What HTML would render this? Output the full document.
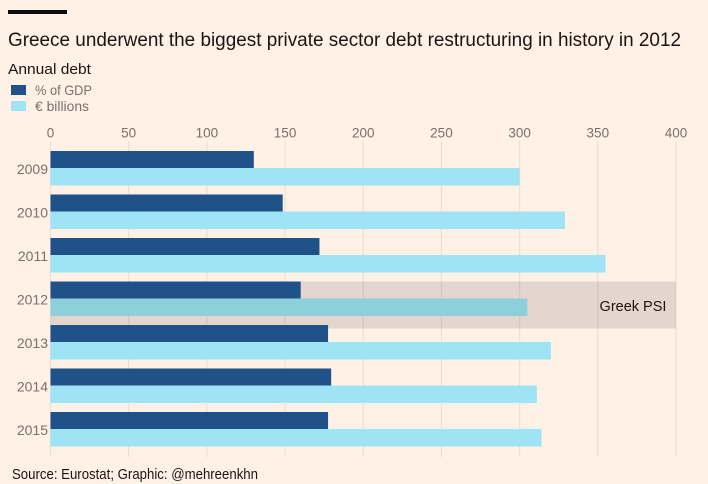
<!DOCTYPE html>
<html lang="en">
<head>
<meta charset="utf-8">
<title>Greece debt restructuring chart</title>
<style>
html,body{margin:0;padding:0;background:#fff1e5;}
#chart{display:block;width:708px;height:484px;font-family:"Liberation Sans",sans-serif;}
</style>
</head>
<body>
<svg id="chart" xmlns="http://www.w3.org/2000/svg" width="708" height="484" viewBox="0 0 708 484">
  <rect x="0" y="0" width="708" height="484" fill="#fff1e5"/>
  <rect x="8" y="10" width="59" height="4" fill="#0d0d0d"/>
  <text x="8" y="46" font-size="19.5" fill="#1a1512" textLength="673" lengthAdjust="spacingAndGlyphs">Greece underwent the biggest private sector debt restructuring in history in 2012</text>
  <text x="8" y="74" font-size="15" fill="#1a1512" textLength="83" lengthAdjust="spacingAndGlyphs">Annual debt</text>
  <rect x="11" y="85" width="15" height="10" fill="#1f5288"/>
  <text x="35" y="95" font-size="14" fill="#7a706a" textLength="57" lengthAdjust="spacingAndGlyphs">% of GDP</text>
  <rect x="11" y="101" width="15" height="10" fill="#9ee4f5"/>
  <text x="35" y="111" font-size="14" fill="#7a706a" textLength="54" lengthAdjust="spacingAndGlyphs">€ billions</text>
  <g id="plot"></g>
  <text x="12" y="479" font-size="14.5" fill="#1a1512" textLength="246" lengthAdjust="spacingAndGlyphs">Source: Eurostat; Graphic: @mehreenkhn</text>
</svg>
<script>
const years = ["2009", "2010", "2011", "2012", "2013", "2014", "2015"];
const gdpShare = [130, 148.5, 172, 160, 177.5, 179.5, 177.5];
const euroBillions = [300, 329, 355, 305, 320, 311, 314];
const xTicks = [0, 50, 100, 150, 200, 250, 300, 350, 400];
const highlightYear = "2012";
const highlightLabel = "Greek PSI";

const NS = "http://www.w3.org/2000/svg";
const plotGroup = document.getElementById("plot");
const xScale = v => 50.5 + v * (676 - 50.5) / 400;
const rowTop = i => 151 + i * 43.5;
const barH = 17;

function add(tag, attrs, text) {
  const el = document.createElementNS(NS, tag);
  for (const k in attrs) el.setAttribute(k, attrs[k]);
  if (text !== undefined) el.textContent = text;
  plotGroup.appendChild(el);
  return el;
}

/* gridlines and tick labels */
xTicks.forEach(t => {
  const line = add("line", {x1: xScale(t), x2: xScale(t), y1: 141, y2: 457, stroke: "#ecdfd3", "stroke-width": 1.2});
  
  
  const label = add("text", {x: xScale(t), y: 137.5, "text-anchor": "middle", "font-size": 13.5, fill: "#7a706a"}, String(t));
  
  
});

/* bars */
const highlightIndex = years.indexOf(highlightYear);
years.forEach((year, i) => {
  const y = rowTop(i);
  if (i === highlightIndex) {
    const bandRect = add("rect", {x: xScale(0), y: y, width: xScale(400) - xScale(0), height: 47, fill: "#5e5252", "fill-opacity": 0.17});
    
    
  }
  const dark = add("rect", {x: xScale(0), y: y, width: xScale(gdpShare[i]) - xScale(0), height: barH, fill: "#1f5288"});
  
  
  const light = add("rect", {x: xScale(0), y: y + barH, width: xScale(euroBillions[i]) - xScale(0), height: barH + 0.5, fill: i === highlightIndex ? "#8ecfdc" : "#9ee4f5"});
  
  
  const label = add("text", {x: 48, y: y + 23, "text-anchor": "end", "font-size": 14, fill: "#7a706a"}, year);
  
  
});

const bandLabel = add("text", {x: 633, y: 311, "text-anchor": "middle", "font-size": 14.5, fill: "#1a1512"}, highlightLabel);


</script>
</body>
</html>
